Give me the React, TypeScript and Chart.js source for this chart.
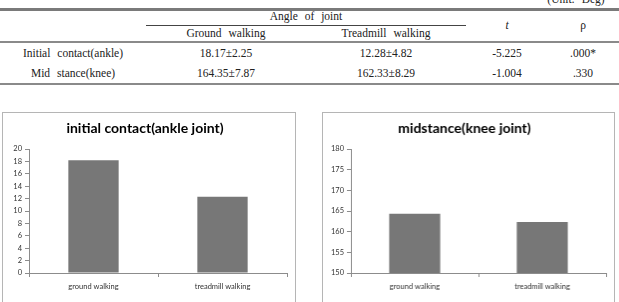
import React, { useEffect, useRef } from "react";
import { Chart, registerables } from "chart.js";

Chart.register(...registerables);

const categories = ["ground walking", "treadmill walking"];
const ankleValues = [18.17, 12.28];
const kneeValues = [164.35, 162.33];
const ankleTitle = "initial contact(ankle joint)";
const kneeTitle = "midstance(knee joint)";

const tableHeaderGroup = "Angle of joint";
const tableColumns = ["Ground walking", "Treadmill walking", "t", "ρ"];
const tableRowLabels = ["Initial contact(ankle)", "Mid stance(knee)"];
const tableGround = ["18.17±2.25", "164.35±7.87"];
const tableTreadmill = ["12.28±4.82", "162.33±8.29"];
const tableT = ["-5.225", "-1.004"];
const tableP = [".000*", ".330"];
const unitLabel = "(Unit: Deg)";

const BAR = "#777777";
const AXIS = "#8c8c8c";
const TICKFONT = { family: "Lato, 'Open Sans', sans-serif", size: 7.5 };

function BarChart(props: {
  values: number[];
  title: string;
  min: number;
  max: number;
  step: number;
  yWidth: number;
  barPct: number;
}) {
  const ref = useRef<HTMLCanvasElement | null>(null);
  useEffect(() => {
    if (!ref.current) return;
    const chart = new Chart(ref.current, {
      type: "bar",
      data: {
        labels: categories,
        datasets: [
          {
            data: props.values,
            backgroundColor: BAR,
            borderWidth: 0,
            categoryPercentage: 1,
            barPercentage: props.barPct,
          },
        ],
      },
      options: {
        animation: false,
        responsive: false,
        devicePixelRatio: 1,
        layout: { padding: { left: 0, right: 8, top: 0, bottom: 0 } },
        plugins: {
          legend: { display: false },
          tooltip: { enabled: false },
          title: {
            display: true,
            text: props.title,
            color: "#000",
            font: { family: "Lato, 'Open Sans', sans-serif", size: 14, weight: "bold" },
            padding: { top: 7.6, bottom: 12.6 },
          },
        },
        scales: {
          x: {
            afterFit: (s: any) => {
              s.height = 29;
            },
            grid: {
              display: true,
              drawOnChartArea: false,
              drawTicks: true,
              tickLength: 4,
              color: AXIS,
              offset: true,
            },
            border: { display: true, color: AXIS, width: 1 },
            ticks: { color: "#333", font: TICKFONT, padding: 5, maxRotation: 0 },
          },
          y: {
            min: props.min,
            max: props.max,
            afterFit: (s: any) => {
              s.width = props.yWidth;
            },
            grid: {
              display: true,
              drawOnChartArea: false,
              drawTicks: true,
              tickLength: 4,
              color: AXIS,
            },
            border: { display: true, color: AXIS, width: 1 },
            ticks: { stepSize: props.step, color: "#333", font: TICKFONT, padding: 3 },
          },
        },
      },
    });
    return () => chart.destroy();
  }, []);
  return <canvas ref={ref} width={292} height={190} style={{ width: "100%", height: "100%", display: "block" }} />;
}

const serif = "'Liberation Serif', 'Times New Roman', serif";

function Txt(props: { x: number; y: number; children: any; italic?: boolean }) {
  return (
    <div
      style={{
        position: "absolute",
        left: props.x,
        top: props.y,
        transform: "translate(-50%, -50%)",
        whiteSpace: "pre",
        fontFamily: serif,
        fontSize: 11.5,
        wordSpacing: 4,
        color: "#222",
        fontStyle: props.italic ? "italic" : "normal",
        lineHeight: 1,
      }}
    >
      {props.children}
    </div>
  );
}

function HLine(props: { x: number; y: number; w: number; h: number; c: string }) {
  return (
    <div
      style={{
        position: "absolute",
        left: props.x,
        top: props.y,
        width: props.w,
        height: props.h,
        background: props.c,
      }}
    />
  );
}

export default function App() {
  const colX = [73, 226, 386, 507, 583];
  const rowY = [54, 74];
  return (
    <div
      style={{
        position: "absolute",
        left: 0,
        top: 0,
        width: 619,
        height: 302,
        overflow: "hidden",
        background: "#fff",
      }}
    >
      <Txt x={576} y={0}>{unitLabel}</Txt>
      <HLine x={0} y={8} w={619} h={3} c="#7a7a7a" />
      <Txt x={306} y={17}>{tableHeaderGroup}</Txt>
      <HLine x={146} y={25} w={320} h={1} c="#444" />
      <Txt x={colX[1]} y={34}>{tableColumns[0]}</Txt>
      <Txt x={colX[2]} y={34}>{tableColumns[1]}</Txt>
      <Txt x={colX[3]} y={26} italic>{tableColumns[2]}</Txt>
      <Txt x={colX[4]} y={26}>{tableColumns[3]}</Txt>
      <HLine x={0} y={41} w={619} h={2} c="#8a8a8a" />
      {rowY.map((y, i) => (
        <React.Fragment key={i}>
          <Txt x={colX[0]} y={y}>{tableRowLabels[i]}</Txt>
          <Txt x={colX[1]} y={y}>{tableGround[i]}</Txt>
          <Txt x={colX[2]} y={y}>{tableTreadmill[i]}</Txt>
          <Txt x={colX[3]} y={y}>{tableT[i]}</Txt>
          <Txt x={colX[4]} y={y}>{tableP[i]}</Txt>
        </React.Fragment>
      ))}
      <HLine x={0} y={83} w={619} h={2} c="#8a8a8a" />

      <div
        style={{
          position: "absolute",
          left: 2,
          top: 112,
          width: 294,
          height: 192,
          border: "1px solid #b5b5b5",
          boxSizing: "border-box",
        }}
      />
      <div style={{ position: "absolute", left: 3, top: 112, width: 292, height: 190 }}>
        <BarChart values={ankleValues} title={ankleTitle} min={0} max={20} step={2} yWidth={26} barPct={0.39} />
      </div>

      <div
        style={{
          position: "absolute",
          left: 322,
          top: 112,
          width: 293,
          height: 192,
          border: "1px solid #b5b5b5",
          boxSizing: "border-box",
        }}
      />
      <div style={{ position: "absolute", left: 323, top: 112, width: 291, height: 190 }}>
        <BarChart values={kneeValues} title={kneeTitle} min={150} max={180} step={5} yWidth={28} barPct={0.4} />
      </div>
    </div>
  );
}
